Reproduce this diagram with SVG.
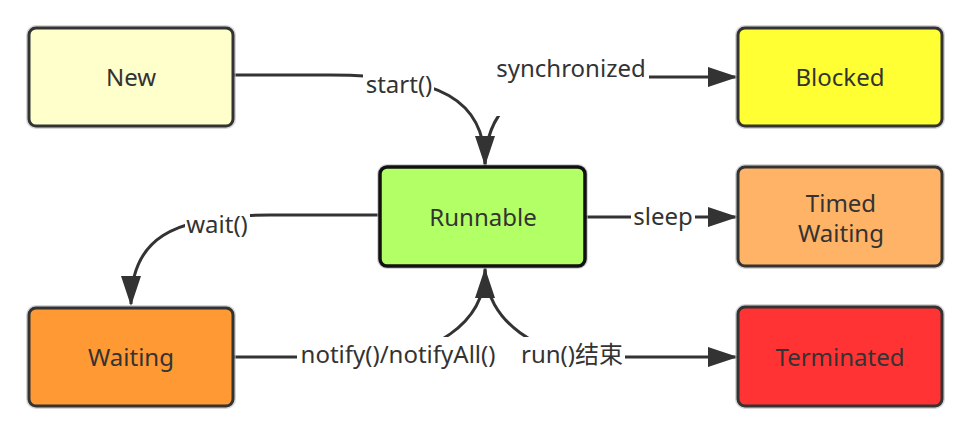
<svg xmlns="http://www.w3.org/2000/svg" width="974" height="445" viewBox="0 0 974 445">
<style>
.halo{fill:none;stroke:#bbb;stroke-width:6;opacity:.6}
.box{stroke:#333;stroke-width:3}
.t{font-family:"Noto Sans","Liberation Sans","Noto Sans CJK SC",sans-serif;font-size:24px;fill:#333;text-anchor:middle}
.lbl{fill:#fff}
.c{fill:none;stroke:#333;stroke-width:3}
</style>
<defs>
<marker id="arr" markerUnits="userSpaceOnUse" markerWidth="32" markerHeight="22" refX="28" refY="10" orient="auto">
<path d="M0,0 L30,10 L0,20 z" fill="#333"/>
</marker>
</defs>
<rect width="974" height="445" fill="#fff"/>
<g id="connectors">
<path class="c" d="M233,75 L330,75 C440,75 485,100 485,164" marker-end="url(#arr)"/>
<path class="c" d="M485,167 C485,110 520,77 600,77 L736,77" marker-end="url(#arr)"/>
<path class="c" d="M585,217 L736,217" marker-end="url(#arr)"/>
<path class="c" d="M380,215 L270,215 C170,215 131,240 131,304" marker-end="url(#arr)"/>
<path class="c" d="M233,357 L370,357 C430,357 485,325 485,270" marker-end="url(#arr)"/>
<path class="c" d="M485,268 C485,322 540,357 600,357 L736,357" marker-end="url(#arr)"/>
<rect class="lbl" x="363" y="72" width="71" height="28"/>
<text class="t" x="399" y="93">start()</text>
<rect class="lbl" x="494" y="50" width="155" height="66"/>
<text class="t" x="571" y="77">synchronized</text>
<rect class="lbl" x="631" y="203" width="64" height="29"/>
<text class="t" x="663" y="225">sleep</text>
<rect class="lbl" x="185" y="210" width="65" height="30"/>
<text class="t" x="217" y="233">wait()</text>
<rect class="lbl" x="297" y="337" width="202" height="35"/>
<text class="t" x="398" y="363">notify()/notifyAll()</text>
<rect class="lbl" x="520" y="337" width="105" height="35"/>
<text class="t" x="572" y="363">run()结束</text>
</g>
<g id="new">
<rect class="halo" x="29" y="28" width="204" height="98" rx="7"/>
<rect class="box" x="29" y="28" width="204" height="98" rx="7" fill="#ffffcc"/>
<text class="t" x="131" y="86">New</text>
</g>
<g id="blocked">
<rect class="halo" x="738" y="28" width="204" height="98" rx="7"/>
<rect class="box" x="738" y="28" width="204" height="98" rx="7" fill="#ffff33"/>
<text class="t" x="840" y="86">Blocked</text>
</g>
<g id="runnable">
<rect class="halo" x="380" y="167" width="205" height="99" rx="7"/>
<rect x="380" y="167" width="205" height="99" rx="7" fill="#b3ff66" stroke="#111" stroke-width="3.5"/>
<text class="t" x="483" y="226">Runnable</text>
</g>
<g id="timed-waiting">
<rect class="halo" x="738" y="167" width="204" height="99" rx="7"/>
<rect class="box" x="738" y="167" width="204" height="99" rx="7" fill="#ffb366"/>
<text class="t" x="841" y="212">Timed</text>
<text class="t" x="841" y="242">Waiting</text>
</g>
<g id="waiting">
<rect class="halo" x="29" y="308" width="204" height="98" rx="7"/>
<rect class="box" x="29" y="308" width="204" height="98" rx="7" fill="#ff9933"/>
<text class="t" x="131" y="366">Waiting</text>
</g>
<g id="terminated">
<rect class="halo" x="738" y="307" width="204" height="99" rx="7"/>
<rect class="box" x="738" y="307" width="204" height="99" rx="7" fill="#ff3333"/>
<text class="t" x="840" y="366">Terminated</text>
</g>
</svg>
